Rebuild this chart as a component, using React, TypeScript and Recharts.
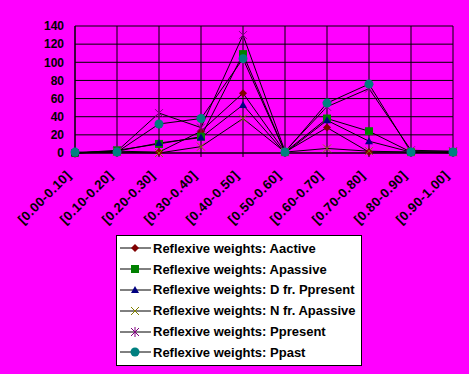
import React from 'react';
import { LineChart, Line, XAxis, YAxis, CartesianGrid } from 'recharts';

const categories = [
  '[0.00-0.10]', '[0.10-0.20]', '[0.20-0.30]', '[0.30-0.40]', '[0.40-0.50]',
  '[0.50-0.60]', '[0.60-0.70]', '[0.70-0.80]', '[0.80-0.90]', '[0.90-1.00]',
];
const aactive = [0, 2, 1, 24, 66, 1, 28, 1, 1, 1];
const apassive = [0, 3, 10, 18, 109, 1, 38, 24, 1, 1];
const dfrPpresent = [0, 2, 11, 17, 53, 0, 36, 13, 1, 0];
const nfrApassive = [0, 1, 0, 7, 38, 1, 5, 2, 1, 1];
const ppresent = [0, 2, 44, 28, 130, 2, 51, 71, 3, 2];
const ppast = [1, 1, 32, 38, 104, 1, 55, 76, 1, 1];
const yTicks = [0, 20, 40, 60, 80, 100, 120, 140];

const FONT = '"Liberation Sans", Arial, sans-serif';

type Shape = 'diamond' | 'square' | 'triangle' | 'x' | 'star' | 'circle';

const SERIES: { key: string; name: string; values: number[]; color: string; shape: Shape }[] = [
  { key: 'aactive', name: 'Reflexive weights: Aactive', values: aactive, color: '#800000', shape: 'diamond' },
  { key: 'apassive', name: 'Reflexive weights: Apassive', values: apassive, color: '#008000', shape: 'square' },
  { key: 'dfr', name: 'Reflexive weights: D fr. Ppresent', values: dfrPpresent, color: '#000080', shape: 'triangle' },
  { key: 'nfr', name: 'Reflexive weights: N fr. Apassive', values: nfrApassive, color: '#808000', shape: 'x' },
  { key: 'ppresent', name: 'Reflexive weights: Ppresent', values: ppresent, color: '#800080', shape: 'star' },
  { key: 'ppast', name: 'Reflexive weights: Ppast', values: ppast, color: '#008080', shape: 'circle' },
];

const data = categories.map((c, i) => {
  const row: Record<string, any> = { cat: c };
  SERIES.forEach((s) => (row[s.key] = s.values[i]));
  return row;
});

function Marker({ cx, cy, shape, color }: { cx: number; cy: number; shape: Shape; color: string }) {
  if (cx == null || cy == null) return null;
  switch (shape) {
    case 'diamond':
      return <polygon points={`${cx},${cy - 4} ${cx + 4},${cy} ${cx},${cy + 4} ${cx - 4},${cy}`} fill={color} />;
    case 'square':
      return <rect x={cx - 4} y={cy - 4} width={8} height={8} fill={color} />;
    case 'triangle':
      return <polygon points={`${cx},${cy - 4} ${cx + 4},${cy + 3} ${cx - 4},${cy + 3}`} fill={color} />;
    case 'x':
      return (
        <g stroke={color} strokeWidth={1}>
          <line x1={cx - 4} y1={cy - 4} x2={cx + 4} y2={cy + 4} />
          <line x1={cx - 4} y1={cy + 4} x2={cx + 4} y2={cy - 4} />
        </g>
      );
    case 'star':
      return (
        <g stroke={color} strokeWidth={1}>
          <line x1={cx - 4} y1={cy - 4} x2={cx + 4} y2={cy + 4} />
          <line x1={cx - 4} y1={cy + 4} x2={cx + 4} y2={cy - 4} />
          <line x1={cx} y1={cy - 5} x2={cx} y2={cy + 5} />
        </g>
      );
    default:
      return <circle cx={cx} cy={cy} r={4.5} fill={color} />;
  }
}

const XTick = ({ x, y, payload }: any) => (
  <text
    x={x - 3}
    y={y + 17}
    transform={`rotate(-45 ${x - 3} ${y + 17})`}
    textAnchor="end"
    fontFamily={FONT}
    fontWeight="bold"
    fontSize={13}
    letterSpacing={0.5}
    fill="#000"
  >
    {payload.value}
  </text>
);

export default function App() {
  return (
    <div style={{ position: 'absolute', left: 0, top: 0, width: 469, height: 374, background: '#FF00FF' }}>
      <LineChart width={469} height={374} data={data} margin={{ top: 26, right: 16, left: 0, bottom: 0 }}>
        <CartesianGrid stroke="#000" strokeWidth={1} fill="#FF00FF" />
        <XAxis
          dataKey="cat"
          interval={0}
          height={221}
          axisLine={{ stroke: '#000' }}
          tickLine={{ stroke: '#000' }}
          tickSize={4}
          tick={<XTick />}
        />
        <YAxis
          domain={[0, 140]}
          ticks={yTicks}
          interval={0}
          width={75}
          axisLine={{ stroke: '#000' }}
          tickLine={false}
          tickMargin={5}
          tick={{ fontFamily: FONT, fontWeight: 'bold', fontSize: 12, fill: '#000' }}
        />
        {SERIES.map((s) => (
          <Line
            key={s.key}
            dataKey={s.key}
            name={s.name}
            type="linear"
            stroke="#000"
            strokeWidth={1}
            isAnimationActive={false}
            dot={(p: any) => <Marker key={`${s.key}-${p.index}`} cx={p.cx} cy={p.cy} shape={s.shape} color={s.color} />}
            activeDot={false}
          />
        ))}
      </LineChart>
      <div
        style={{
          position: 'absolute',
          left: 116,
          top: 235,
          width: 244,
          height: 127,
          background: '#fff',
          border: '1px solid #000',
          fontFamily: FONT,
          fontWeight: 'bold',
          fontSize: 13,
          paddingTop: 2,
        }}
      >
        {SERIES.map((s) => (
          <div key={s.key} style={{ display: 'flex', alignItems: 'center', height: 20.8 }}>
            <svg width={36} height={12} style={{ flex: 'none' }}>
              <line x1={3} y1={6} x2={34} y2={6} stroke="#000" strokeWidth={1} />
              <Marker cx={18} cy={6} shape={s.shape} color={s.color} />
            </svg>
            <span>{s.name}</span>
          </div>
        ))}
      </div>
    </div>
  );
}
